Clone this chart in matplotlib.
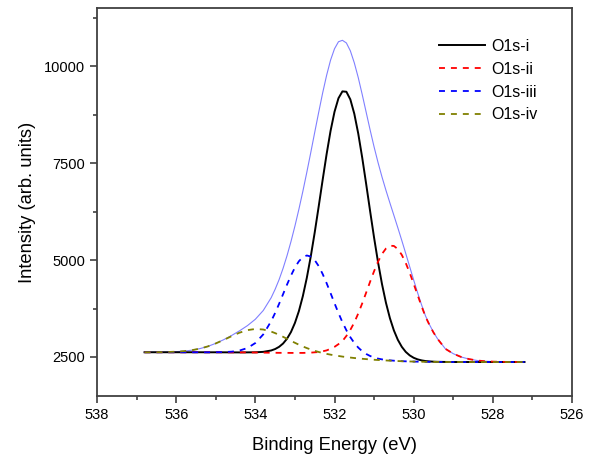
import numpy as np
import matplotlib
matplotlib.use("Agg")
import matplotlib.pyplot as plt
from matplotlib.ticker import MultipleLocator

# binding energy grid (eV), finer across the main peak
energy = [536.8, 536.6, 536.4, 536.2, 536.0, 535.8, 535.6, 535.4, 535.2, 535.0,
          534.8, 534.6, 534.4, 534.2, 534.0, 533.8, 533.6,
          533.5, 533.4, 533.3, 533.2, 533.1, 533.0, 532.9, 532.8, 532.7, 532.6,
          532.5, 532.4, 532.3, 532.2, 532.1, 532.0, 531.9, 531.8, 531.7, 531.6,
          531.5, 531.4, 531.3, 531.2, 531.1, 531.0, 530.9, 530.8, 530.7, 530.6,
          530.5, 530.4, 530.3, 530.2, 530.1, 530.0, 529.9, 529.8, 529.7, 529.6,
          529.5, 529.4,
          529.2, 529.0, 528.8, 528.6, 528.4, 528.2, 528.0, 527.8, 527.6, 527.4, 527.2]

# fitted components
o1s_i = [2622, 2622, 2622, 2622, 2622, 2622, 2622, 2622, 2621, 2621,
         2620, 2619, 2618, 2619, 2621, 2632, 2668,
         2705, 2762, 2847, 2971, 3144, 3379, 3684, 4071, 4542, 5094,
         5715, 6383, 7069, 7733, 8335, 8829, 9179, 9356, 9346, 9148,
         8778, 8265, 7645, 6964, 6262, 5578, 4944, 4380, 3898, 3501,
         3186, 2943, 2762, 2631, 2541, 2479, 2438, 2412, 2395, 2385,
         2379, 2375,
         2372, 2370, 2370, 2370, 2370, 2370, 2370, 2370, 2370, 2370, 2370]

o1s_ii = [2622, 2622, 2622, 2622, 2622, 2622, 2622, 2622, 2621, 2621,
          2620, 2619, 2618, 2617, 2615, 2612, 2609,
          2608, 2607, 2606, 2606, 2605, 2605, 2605, 2605, 2608, 2612,
          2620, 2627, 2646, 2670, 2711, 2761, 2831, 2910, 3043, 3200,
          3390, 3624, 3884, 4162, 4444, 4715, 4960, 5160, 5300, 5371,
          5366, 5285, 5135, 4925, 4671, 4389, 4097, 3809, 3538, 3324,
          3133, 2972,
          2711, 2585, 2500, 2445, 2410, 2390, 2380, 2375, 2372, 2371, 2370]

o1s_iii = [2622, 2622, 2622, 2622, 2622, 2622, 2622, 2622, 2621, 2623,
           2626, 2637, 2666, 2731, 2860, 3083, 3425,
           3637, 3872, 4120, 4368, 4602, 4809, 4971, 5077, 5120, 5093,
           5000, 4846, 4643, 4406, 4149, 3887, 3634, 3398, 3190, 3010,
           2862, 2742, 2649, 2578, 2525, 2485, 2458, 2438, 2423, 2413,
           2404, 2397, 2392, 2388, 2384, 2381, 2379, 2377, 2375, 2374,
           2373, 2372,
           2371, 2370, 2370, 2370, 2370, 2370, 2370, 2370, 2370, 2370, 2370]

o1s_iv = [2622, 2623, 2625, 2629, 2637, 2651, 2676, 2716, 2773, 2850,
          2940, 3037, 3127, 3193, 3223, 3209, 3155,
          3116, 3070, 3021, 2969, 2916, 2866, 2817, 2771, 2730, 2693,
          2659, 2629, 2603, 2580, 2560, 2542, 2526, 2510, 2497, 2485,
          2473, 2463, 2453, 2445, 2436, 2428, 2422, 2416, 2410, 2405,
          2400, 2395, 2391, 2387, 2384, 2381, 2379, 2377, 2375, 2374,
          2373, 2372,
          2371, 2370, 2370, 2370, 2370, 2370, 2370, 2370, 2370, 2370, 2370]

envelope = [2622, 2623, 2625, 2629, 2637, 2651, 2676, 2716, 2773, 2852,
            2946, 3055, 3175, 3309, 3474, 3700, 4030,
            4248, 4497, 4787, 5114, 5479, 5880, 6313, 6775, 7266, 7776,
            8299, 8814, 9314, 9769, 10162, 10456, 10637, 10674, 10606, 10403,
            10093, 9711, 9275, 8817, 8359, 7922, 7518, 7146, 6801, 6475,
            6156, 5835, 5507, 5170, 4828, 4487, 4156, 3844, 3558, 3335,
            3139, 2975,
            2712, 2585, 2500, 2445, 2410, 2390, 2380, 2375, 2372, 2371, 2370]

plt.rcParams["font.family"] = ["Liberation Sans", "DejaVu Sans"]

fig = plt.figure(figsize=(5.92, 4.57), dpi=100)
ax = fig.add_axes([0.1639, 0.1341, 0.8023, 0.8477])

dash = (0, (3.3, 3.3))
ax.plot(energy, envelope, color="#8080ff", lw=0.8)
ax.plot(energy, o1s_i, color="black", lw=1.4, label="O1s-i")
ax.plot(energy, o1s_ii, color="#ff0000", lw=1.3, ls=dash, label="O1s-ii")
ax.plot(energy, o1s_iii, color="#0000ff", lw=1.3, ls=dash, label="O1s-iii")
ax.plot(energy, o1s_iv, color="#808000", lw=1.3, ls=dash, label="O1s-iv")

ax.set_xlim(538, 526)
ax.set_ylim(1500, 11500)
ax.xaxis.set_major_locator(MultipleLocator(2))
ax.xaxis.set_minor_locator(MultipleLocator(1))
ax.set_yticks([2500, 5000, 7500, 10000])
ax.set_yticks([3750, 6250, 8750, 11250], minor=True)

for s in ax.spines.values():
    s.set_color("#404040")
    s.set_linewidth(1.3)

ax.tick_params(which="both", direction="out", top=False, right=False,
               color="#404040", width=1.2, labelsize=10.5, labelcolor="black")
ax.tick_params(which="major", length=5)
ax.tick_params(which="minor", length=3)

ax.set_xlabel("Binding Energy (eV)", fontsize=13.2, labelpad=11)
ax.set_ylabel("Intensity (arb. units)", fontsize=13.2, labelpad=6)

ax.legend(loc="upper left", bbox_to_anchor=(0.72, 0.922), frameon=False,
          fontsize=11.5, handlelength=2.9, handletextpad=0.35,
          labelspacing=0.5, borderaxespad=0, borderpad=0)

fig.savefig("out.png", dpi=100)
